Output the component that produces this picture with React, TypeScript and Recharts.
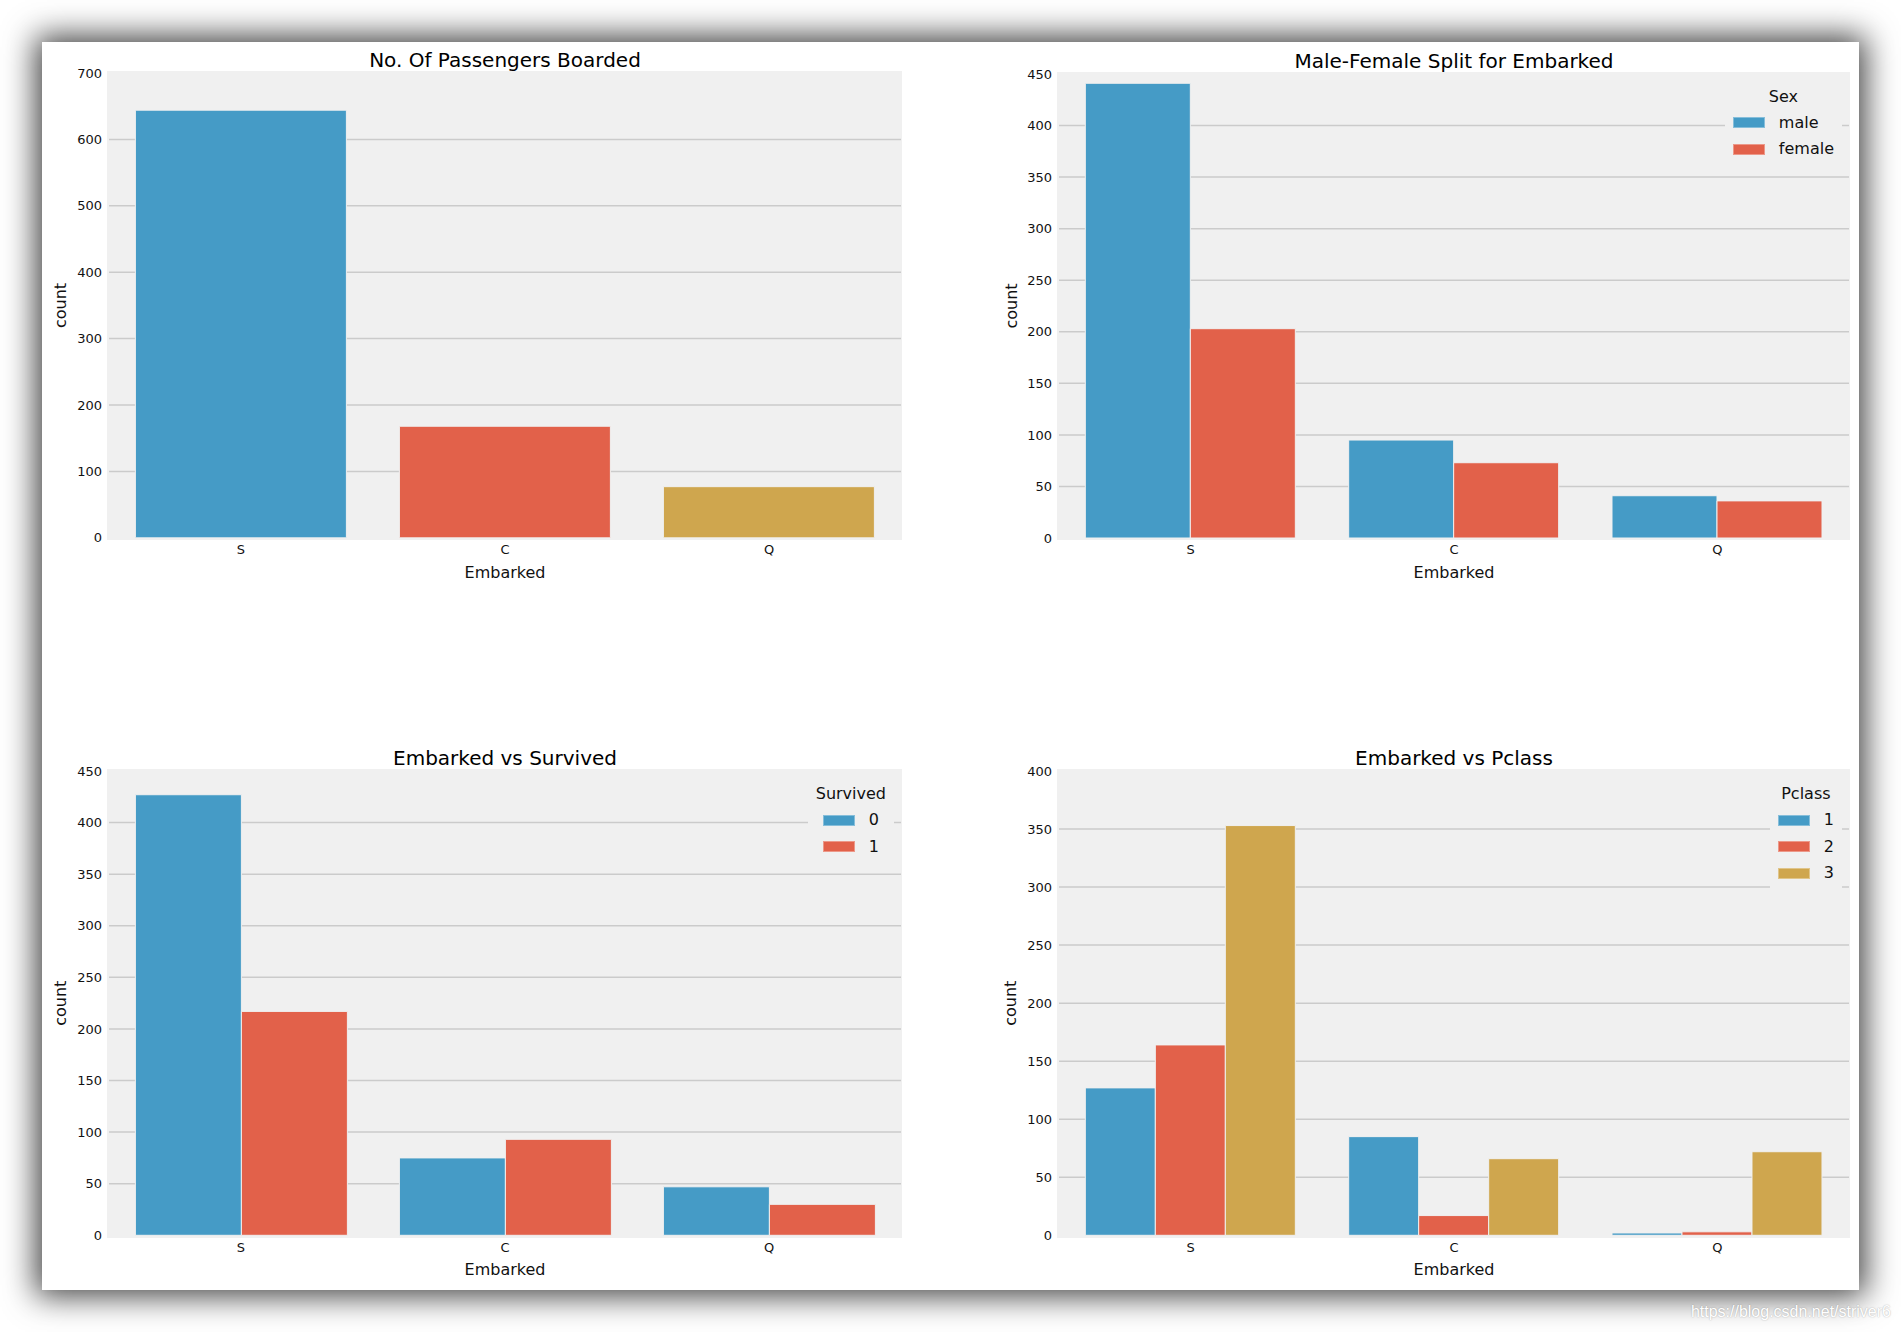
import React from 'react';
import { BarChart, Bar, XAxis, YAxis, CartesianGrid, Legend, Label, Cell } from 'recharts';

// ---------- data ----------
const embarked = ['S', 'C', 'Q'];

const boardedCounts = [644, 168, 77];

const sexLevels = ['male', 'female'];
const maleCounts = [441, 95, 41];
const femaleCounts = [203, 73, 36];

const survivedLevels = ['0', '1'];
const survived0Counts = [427, 75, 47];
const survived1Counts = [217, 93, 30];

const pclassLevels = ['1', '2', '3'];
const pclass1Counts = [127, 85, 2];
const pclass2Counts = [164, 17, 3];
const pclass3Counts = [353, 66, 72];

const ticks700 = [0, 100, 200, 300, 400, 500, 600, 700];
const ticks450 = [0, 50, 100, 150, 200, 250, 300, 350, 400, 450];
const ticks400 = [0, 50, 100, 150, 200, 250, 300, 350, 400];

const palette = ['#459bc6', '#e2614a', '#cfa64e'];
const FONT = '"DejaVu Sans", "Noto Sans", sans-serif';
const TEXT = '#111111';

// build tables
const boardedData = embarked.map((e, i) => ({ Embarked: e, count: boardedCounts[i] }));
const sexData = embarked.map((e, i) => ({ Embarked: e, male: maleCounts[i], female: femaleCounts[i] }));
const survivedData = embarked.map((e, i) => ({ Embarked: e, '0': survived0Counts[i], '1': survived1Counts[i] }));
const pclassData = embarked.map((e, i) => ({
  Embarked: e,
  '1': pclass1Counts[i],
  '2': pclass2Counts[i],
  '3': pclass3Counts[i],
}));

const YLabel = (props: any) => {
  const vb = props.viewBox || { x: 0, y: 0, width: 0, height: 0 };
  const cx = vb.x + vb.width - 42.5;
  const cy = vb.y + vb.height / 2;
  return (
    <text
      x={cx}
      y={cy}
      transform={`rotate(-90 ${cx} ${cy})`}
      textAnchor="middle"
      fontSize={16}
      fontFamily={FONT}
      fill={TEXT}
    >
      {props.value}
    </text>
  );
};

const makeLegend = (title: string, labels: string[]) => () => (
  <div
    style={{
      background: '#f0f0f0',
      padding: '4px 8px 6px 8px',
      display: 'flex',
      flexDirection: 'column',
      alignItems: 'center',
      fontFamily: FONT,
      fontSize: 16,
      color: TEXT,
    }}
  >
    <div style={{ height: 26, lineHeight: '26px', whiteSpace: 'nowrap' }}>{title}</div>
    <div>
      {labels.map((l, i) => (
        <div key={l} style={{ height: 26.5, display: 'flex', alignItems: 'center' }}>
          <div style={{ width: 32, height: 11, background: palette[i], marginRight: 14, boxSizing: 'border-box', border: '1px solid rgba(255,255,255,0.35)' }} />
          <span style={{ lineHeight: '26.5px', whiteSpace: 'nowrap' }}>{l}</span>
        </div>
      ))}
    </div>
  </div>
);

type PanelProps = {
  plot: [number, number, number, number];
  title: string;
  data: any[];
  keys: string[];
  ticks: number[];
  legendTitle?: string;
  single?: boolean;
};

function Panel({ plot, title, data, keys, ticks, legendTitle, single }: PanelProps) {
  const [x0, x1, y0, y1] = plot;
  const pw = x1 - x0;
  const ph = y1 - y0;
  const L = 100, T = 10, R = 10, B = 70;
  const W = pw + L + R;
  const H = ph + T + B;
  const max = ticks[ticks.length - 1];
  return (
    <>
      <div
        style={{
          position: 'absolute',
          left: x0 - 2.3,
          top: y0 - 2,
          width: pw + 3.7,
          height: ph + 4.5,
          background: '#f0f0f0',
        }}
      />
      <div
        style={{
          position: 'absolute',
          left: x0,
          top: y0 - 25,
          width: pw,
          height: 24,
          lineHeight: '24px',
          textAlign: 'center',
          fontFamily: FONT,
          fontSize: 20,
          color: '#000',
          whiteSpace: 'nowrap',
        }}
      >
        {title}
      </div>
      <div style={{ position: 'absolute', left: x0 - L, top: y0 - T }}>
        <BarChart
          width={W}
          height={H}
          data={data}
          margin={{ top: T, right: R, left: L - 60, bottom: B - 40 }}
          barCategoryGap="10%"
          barGap={0}
        >
          <CartesianGrid
            vertical={false}
            horizontalValues={ticks.slice(1, -1)}
            stroke="#cbcbcb"
            strokeWidth={1.5}
          />
          <XAxis
            dataKey="Embarked"
            height={40}
            tickLine={false}
            axisLine={false}
            tickSize={0}
            tickMargin={7}
            interval={0}
            tick={{ fontSize: 13, fill: TEXT, fontFamily: FONT }}
          >
            <Label value="Embarked" position="insideBottom" offset={0} fontSize={16} fill={TEXT} fontFamily={FONT} />
          </XAxis>
          <YAxis
            width={60}
            type="number"
            domain={[0, max]}
            ticks={ticks}
            allowDataOverflow
            tickLine={false}
            axisLine={false}
            tickSize={0}
            tickMargin={7}
            interval={0}
            tick={{ fontSize: 13, fill: TEXT, fontFamily: FONT }}
          >
            <Label value="count" content={YLabel} />
          </YAxis>
          {single
            ? keys.map((k) => (
                <Bar key={k} dataKey={k} isAnimationActive={false} stroke="#f0f0f0" strokeWidth={1}>
                  {data.map((d, i) => (
                    <Cell key={d.Embarked} fill={palette[i]} />
                  ))}
                </Bar>
              ))
            : keys.map((k, i) => (
                <Bar
                  key={k}
                  dataKey={k}
                  name={k}
                  fill={palette[i]}
                  stroke="#f0f0f0"
                  strokeWidth={1}
                  isAnimationActive={false}
                />
              ))}
          {legendTitle ? (
            <Legend
              layout="vertical"
              align="center"
              verticalAlign="middle"
              content={makeLegend(legendTitle, keys)}
              wrapperStyle={{ right: 17, top: 16, margin: 0, padding: 0 }}
            />
          ) : null}
        </BarChart>
      </div>
    </>
  );
}

export default function App() {
  return (
    <div
      style={{
        position: 'absolute',
        left: 0,
        top: 0,
        width: 1901,
        height: 1332,
        background: '#ffffff',
        overflow: 'hidden',
        fontFamily: FONT,
      }}
    >
      <div
        style={{
          position: 'absolute',
          left: 42,
          top: 42,
          width: 1817,
          height: 1248,
          background: '#ffffff',
          boxShadow: '0 0 30px 6px rgba(0,0,0,0.75)',
        }}
      />
      <Panel
        plot={[109, 901, 72.7, 537.5]}
        title="No. Of Passengers Boarded"
        data={boardedData}
        keys={['count']}
        ticks={ticks700}
        single
      />
      <Panel
        plot={[1059, 1849, 73.5, 537.5]}
        title="Male-Female Split for Embarked"
        data={sexData}
        keys={sexLevels}
        ticks={ticks450}
        legendTitle="Sex"
      />
      <Panel
        plot={[109, 901, 771, 1235.3]}
        title="Embarked vs Survived"
        data={survivedData}
        keys={survivedLevels}
        ticks={ticks450}
        legendTitle="Survived"
      />
      <Panel
        plot={[1059, 1849, 771, 1235.3]}
        title="Embarked vs Pclass"
        data={pclassData}
        keys={pclassLevels}
        ticks={ticks400}
        legendTitle="Pclass"
      />
      <div
        style={{
          position: 'absolute',
          right: 10,
          top: 1302.5,
          height: 18,
          lineHeight: '18px',
          fontFamily: '"Liberation Sans", Arial, sans-serif',
          fontSize: 16,
          color: '#ffffff',
          textShadow: '0 0 1.5px rgba(0,0,0,0.35)',
          whiteSpace: 'nowrap',
        }}
      >
        https://blog.csdn.net/striver6
      </div>
    </div>
  );
}
